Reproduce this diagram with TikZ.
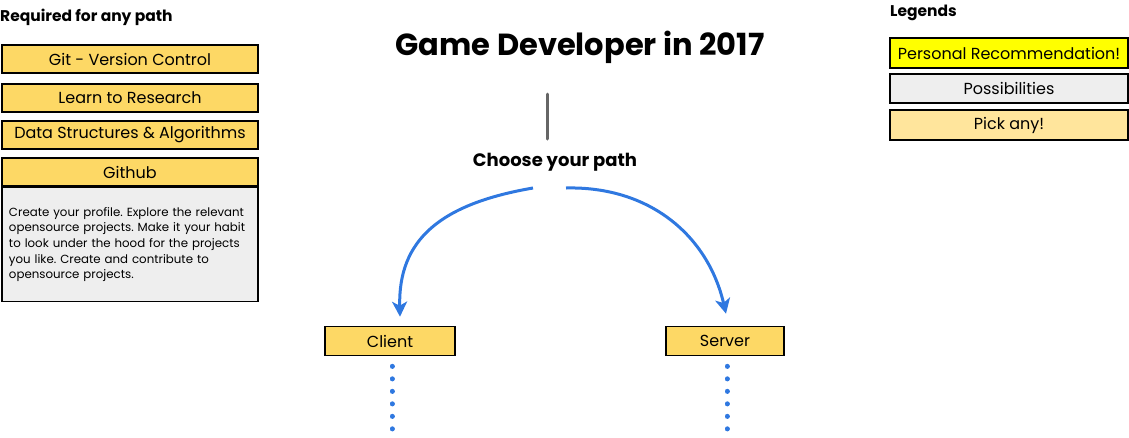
\documentclass[tikz,border=0pt]{standalone}
\usepackage{fontspec}
\setmainfont{Poppins}
\usetikzlibrary{arrows.meta}
\definecolor{pickany}{HTML}{FDD865}
\definecolor{picklight}{HTML}{FFE59C}
\definecolor{possible}{HTML}{EEEEEE}
\definecolor{recommend}{HTML}{FFFF00}
\definecolor{pathblue}{HTML}{2F78E0}
\tikzset{
  topicbox/.style={draw=black, line width=1.6pt, fill=pickany, minimum width=256pt,
    minimum height=28pt, inner sep=0pt, font=\fontsize{16}{18}\selectfont},
  pathbox/.style={topicbox, minimum height=29pt},
  heading/.style={font=\bfseries\fontsize{15.5}{18}\selectfont, anchor=west, inner sep=0pt},
  choice/.style={draw=pathblue, line width=3pt, -{Stealth[length=15pt,width=15pt,inset=4pt]}},
  dotline/.style={draw=pathblue, line width=5pt, line cap=round, dash pattern=on 0.1pt off 12.4pt}
}
\begin{document}
\frenchspacing
\begin{tikzpicture}[x=1pt,y=-1pt]
  \useasboundingbox (0,0) rectangle (1129,437);
  % required topics
  \node[heading] (req) at (0,17) {Required for any path};
  \node[topicbox] (git) at (130,59) {Git - Version Control};
  \node[topicbox] (research) at (130,98) {Learn to Research};
  \node[topicbox] (dsa) at (130,135) {Data Structures \& Algorithms};
  \node[topicbox] (github) at (130,172) {Github};
  \node[topicbox, fill=possible, minimum height=114pt, anchor=north, text width=242pt,
    align=left, font=\fontsize{11.8}{15.6}\selectfont] (ghdesc) at (github.south)
    {Create your profile. Explore the relevant\\
     opensource projects. Make it your habit\\
     to look under the hood for the projects\\
     you like. Create and contribute to\\
     opensource projects.};
  % title
  \node[font=\bfseries\fontsize{30.5}{34}\selectfont] (title) at (580,47) {Game Developer in 2017};
  \node[font=\bfseries\fontsize{18}{21}\selectfont] (choose) at (555,162) {Choose your path};
  \coordinate (stemtop) at (547,94);
  \coordinate (stemend) at (547,139);
  \draw[line width=3pt, color=black!60, line cap=round] (stemtop) -- (stemend);
  % paths
  \node[pathbox, minimum width=130pt] (client) at (390,341) {Client};
  \node[pathbox, minimum width=118pt] (server) at (725,341) {Server};
  \coordinate (leftstart) at (533,188);
  \coordinate (rightstart) at (566,188);
  \draw[choice] (leftstart) .. controls (440,204) and (398,240) .. ([xshift=10pt,yshift=9pt]client.north);
  \draw[choice] (rightstart) .. controls (650,186) and (708,236) .. ([xshift=1pt,yshift=12pt]server.north);
  \coordinate (clientend) at (392,430);
  \coordinate (serverend) at (727,430);
  \draw[dotline] ([xshift=2pt,yshift=-10pt]client.south) -- (clientend);
  \draw[dotline] ([xshift=2pt,yshift=-10pt]server.south) -- (serverend);
  % legends
  \node[heading] (legend) at (890,13) {Legends};
  \node[topicbox, fill=recommend, minimum width=238pt, minimum height=30pt] (recbox) at (1009,53) {Personal Recommendation!};
  \node[topicbox, fill=possible, minimum width=238pt, minimum height=29pt] (posbox) at (1009,88.5) {Possibilities};
  \node[topicbox, fill=picklight, minimum width=238pt, minimum height=30pt] (anybox) at (1009,125) {Pick any!};
\end{tikzpicture}
\end{document}
